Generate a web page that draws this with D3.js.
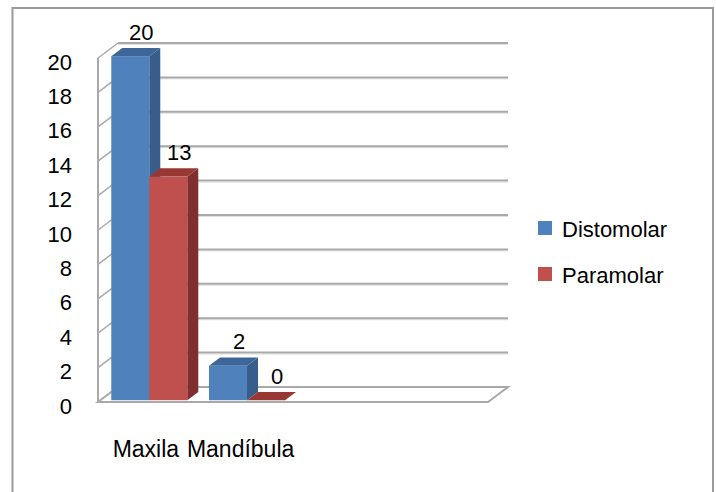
<!DOCTYPE html>
<html>
<head>
<meta charset="utf-8">
<script src="https://cdn.jsdelivr.net/npm/d3@7"></script>
<style>
  html, body { margin: 0; padding: 0; background: #fff; }
  svg text { font-family: "Liberation Sans", Arial, sans-serif; fill: #000; }
</style>
</head>
<body>
<svg id="chart" width="716" height="492"></svg>
<script>
const categories = ["Maxila", "Mandíbula"];
const seriesNames = ["Distomolar", "Paramolar"];
const distomolar = [20, 2];
const paramolar = [13, 0];
const yTicks = [0, 2, 4, 6, 8, 10, 12, 14, 16, 18, 20];

const seriesValues = [distomolar, paramolar];
const colors = {
  Distomolar: { front: "#4F81BD", side: "#385D8A", top: "#3D6699" },
  Paramolar:  { front: "#C0504D", side: "#7F302E", top: "#983835" }
};

const svg = d3.select("#chart");

// layout
const left = 98, floorRight = 488;
const depthX = 20, depthY = 15;
const barD0 = 0.12, barD1 = 0.67;

const y = d3.scaleLinear().domain([0, 20]).range([402, 58]);
const x = d3.scaleBand().domain(categories).range([left, left + 195.5]).paddingInner(0).paddingOuter(0);
const xs = d3.scaleBand().domain(seriesNames).range([0, x.bandwidth()]).paddingInner(0).paddingOuter(0.286);

const gridColor = "#a9a9a9";

// outer frame
svg.append("rect").attr("x", 12.5).attr("y", 8).attr("width", 700.5).attr("height", 500)
  .attr("fill", "none").attr("stroke", "#9a9a9a").attr("stroke-width", 2);

// back wall gridlines
const g = svg.append("g");
yTicks.forEach(v => {
  const yb = y(v) - depthY;
  g.append("line").attr("x1", left + depthX).attr("x2", floorRight + depthX)
    .attr("y1", yb + 1.5).attr("y2", yb + 1.5).attr("stroke", "#e0e0e0").attr("stroke-width", 1);
  g.append("line").attr("x1", left + depthX).attr("x2", floorRight + depthX)
    .attr("y1", yb).attr("y2", yb).attr("stroke", gridColor).attr("stroke-width", 2);
  g.append("line").attr("x1", left).attr("y1", y(v)).attr("x2", left + depthX).attr("y2", yb)
    .attr("stroke", gridColor).attr("stroke-width", 1.5);
});
g.append("line").attr("x1", left).attr("x2", left).attr("y1", y(20)).attr("y2", y(0))
  .attr("stroke", gridColor).attr("stroke-width", 2);

// floor
g.append("polygon")
  .attr("points", [[left, y(0)], [floorRight, y(0)], [floorRight + depthX, y(0) - depthY], [left + depthX, y(0) - depthY]].map(p => p.join(",")).join(" "))
  .attr("fill", "#fff").attr("stroke", gridColor).attr("stroke-width", 2);

// bars
const bars = svg.append("g");
const labels = [];
categories.forEach((c, ci) => {
  seriesNames.forEach((s, si) => {
    const v = seriesValues[si][ci];
    const x0 = x(c) + xs(s) + depthX * barD0;
    const x1 = x0 + xs.bandwidth();
    const yb = y(0) - depthY * barD0;
    const yt = y(v) - depthY * barD0;
    const dx = depthX * (barD1 - barD0), dy = depthY * (barD1 - barD0);
    const col = colors[s];
    bars.append("polygon")
      .attr("points", [[x1, yb], [x1, yt], [x1 + dx, yt - dy], [x1 + dx, yb - dy]].map(p => p.join(",")).join(" "))
      .attr("fill", col.side);
    if (v > 0) {
      bars.append("rect").attr("x", x0).attr("y", yt).attr("width", x1 - x0).attr("height", yb - yt)
        .attr("fill", col.front);
    }
    bars.append("polygon")
      .attr("points", [[x0, yt], [x1, yt], [x1 + dx, yt - dy], [x0 + dx, yt - dy]].map(p => p.join(",")).join(" "))
      .attr("fill", col.top);
    labels.push({ v, cx: (x0 + x1) / 2 + 11, cy: yt - 24 });
  });
});

// data labels
svg.append("g").selectAll("text").data(labels).join("text")
  .attr("x", d => d.cx).attr("y", d => d.cy)
  .attr("text-anchor", "middle").attr("dominant-baseline", "central")
  .attr("font-size", 22).text(d => d.v);

// y tick labels
svg.append("g").selectAll("text").data(yTicks).join("text")
  .attr("x", 72).attr("y", d => y(d) + 4)
  .attr("text-anchor", "end").attr("dominant-baseline", "central")
  .attr("font-size", 22).text(d => d);

// category labels
const catShift = [-1, -4];
svg.append("g").selectAll("text").data(categories).join("text")
  .attr("x", (d, i) => x(d) + x.bandwidth() / 2 + catShift[i]).attr("y", 457)
  .attr("text-anchor", "middle").attr("font-size", 23).text(d => d);

// legend
const lg = svg.append("g");
seriesNames.forEach((s, i) => {
  lg.append("rect").attr("x", 538).attr("y", 221 + i * 46).attr("width", 14).attr("height", 14)
    .attr("fill", colors[s].front);
  lg.append("text").attr("x", 562).attr("y", 229 + i * 46).attr("dominant-baseline", "central")
    .attr("font-size", 22).text(s);
});
</script>
</body>
</html>
